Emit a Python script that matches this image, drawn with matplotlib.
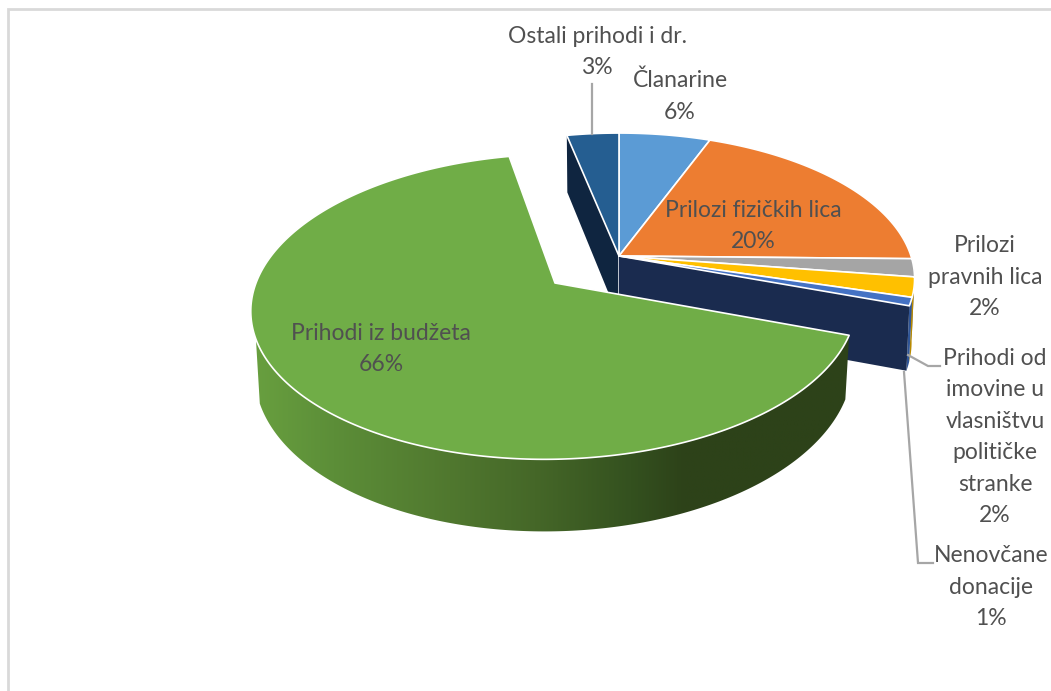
import numpy as np
from matplotlib import pyplot as plt
from matplotlib.colors import LinearSegmentedColormap
from matplotlib.patches import Polygon

plt.rcParams["font.family"] = ["Lato", "DejaVu Sans"]

# slices clockwise from 12 o'clock, shares
categories = ["Članarine", "Prilozi fizičkih lica", "Prilozi pravnih lica",
              "Prihodi od imovine", "Nenovčane donacije", "Prihodi iz budžeta",
              "Ostali prihodi i dr."]
shares = [5.8, 19.5, 2.0, 2.2, 0.9, 66.3, 3.3]
colors = ["#5b9bd5", "#ed7d31", "#a5a5a5", "#ffc000", "#4472c4", "#70ad47", "#255e91"]
rim_colors = ["#3a6d9c", "#ad5a22", "#787878", "#b88a00", "#2f5597", "#4b7030", "#0f2540"]

label_texts = ["Ostali prihodi i dr.\n3%", "Članarine\n6%", "Prilozi fizičkih lica\n20%",
               "Prilozi\npravnih lica\n2%",
               "Prihodi od\nimovine u\nvlasništvu\npolitičke\nstranke\n2%",
               "Nenovčane\ndonacije\n1%", "Prihodi iz budžeta\n66%"]
label_x = [597, 680, 753, 985, 995, 991, 381]
label_y = [52, 96, 226, 277, 437, 587, 349]

edges = np.cumsum([0] + shares) / sum(shares)
GREEN = categories.index("Prihodi iz budžeta")


# perspective view of a point on the pie rim
def rim(frac, cx, cy, rx, ry, k=0.155, shear=0.0):
    theta = 2 * np.pi * np.asarray(frac)
    w = 1 + k * np.cos(theta)
    x = cx + rx * np.sin(theta) / w + shear * ry * np.cos(theta) / w
    y = cy - ry * np.cos(theta) / w
    return np.column_stack([x, y])


# the lower face of the extruded pie
def lower(pts, cx, cy, sx, a, b):
    out = pts.copy()
    out[:, 0] = cx + sx * (pts[:, 0] - cx)
    out[:, 1] = cy + a + b * (pts[:, 1] - cy)
    return out


fig = plt.figure(figsize=(10.51, 6.91), dpi=100)
ax = fig.add_axes([0, 0, 1, 1])

small = dict(cx=619, cy=256, rx=292, ry=142)
big = dict(cx=555, cy=283, rx=299, ry=149, shear=0.06)
small_low = dict(cx=619, cy=256, sx=0.99, a=62.6, b=1.046)
big_low = dict(cx=555, cy=283, sx=0.987, a=60.8, b=1.064)

# dark cut faces behind the small slices
apex = np.array([[small["cx"], small["cy"]]], dtype=float)
apex_low = lower(apex, small["cx"], small["cy"], small_low["sx"], small_low["a"], small_low["b"])

p = rim([edges[GREEN + 1]], **small)
ax.add_patch(Polygon(np.vstack([apex, p, lower(p, **small_low), apex_low]),
                     fc="#0f2540", ec="none", zorder=2))
ax.plot([619, 619], [256, 320], color="#dfe3ea", lw=1.2, zorder=2.1)

for i in range(2, GREEN):
    t = np.linspace(edges[i], edges[i + 1], 20)
    top = rim(t, **small)
    ax.add_patch(Polygon(np.vstack([top, lower(top, **small_low)[::-1]]),
                         fc=rim_colors[i], ec="none", zorder=2))

p = rim([edges[GREEN]], **small)
ax.add_patch(Polygon(np.vstack([apex, p, lower(p, **small_low), apex_low]),
                     fc="#1a2b4f", ec="none", zorder=3))

# top faces of the small slices
for i in range(len(shares)):
    if i == GREEN:
        continue
    t = np.linspace(edges[i], edges[i + 1], 60)
    ax.add_patch(Polygon(np.vstack([apex, rim(t, **small)]), fc=colors[i], ec="white",
                         lw=1.2, joinstyle="round", zorder=4))

# outer wall of the big slice, shaded left to right
t = np.linspace(edges[GREEN], 0.692, 200)
top = rim(t, **big)
wall = Polygon(np.vstack([top, lower(top, **big_low)[::-1]]), fc="none", ec="none",
               transform=ax.transData)
ax.add_patch(wall)
shade = LinearSegmentedColormap.from_list("shade", [
    (0.0, "#689f3f"), (0.13, "#5c8e38"), (0.3, "#527b30"), (0.47, "#456728"),
    (0.63, "#34511f"), (0.72, "#2d4219"), (1.0, "#2d4219")])
img = ax.imshow(np.linspace(0, 1, 256)[None, :], cmap=shade, extent=[255, 852, 540, 300],
                aspect="auto", zorder=5)
img.set_clip_path(wall)

# top of the big slice
t = np.linspace(edges[GREEN], edges[GREEN + 1], 300)
ax.add_patch(Polygon(np.vstack([[[big["cx"], big["cy"]]], rim(t, **big)]), fc=colors[GREEN],
                     ec="white", lw=1.2, joinstyle="round", zorder=6))

# leader lines
leader = dict(color="#a6a6a6", lw=1.6, zorder=7, solid_joinstyle="miter")
ax.plot([592, 592], [84, 134], **leader)
ax.plot([908, 928, 940], [355, 366, 366], **leader)
ax.plot([904, 918, 933], [372, 563, 563], **leader)

for txt, x, y in zip(label_texts, label_x, label_y):
    ax.text(x, y, txt, ha="center", va="center", fontsize=16.5, color="#505050",
            linespacing=1.62, zorder=8)

# chart frame
ax.plot([8, 8, 1051], [691, 9, 9], color="#d9d9d9", lw=2, zorder=1, solid_joinstyle="miter")

ax.set_xlim(0, 1051)
ax.set_ylim(691, 0)
ax.axis("off")
fig.savefig("out.png", dpi=100)
